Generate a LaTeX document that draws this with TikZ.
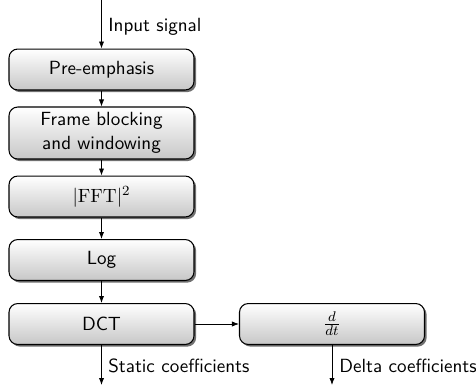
\documentclass[tikz,border=0pt]{standalone}
\usetikzlibrary{shadows,arrows.meta}
\begin{document}
\begin{tikzpicture}[x=0.5714pt,y=-0.5714pt,
  font=\sffamily\fontsize{10.9pt}{13.4pt}\selectfont,
  box/.style={draw=black, line width=0.6pt, rounded corners=5pt,
    top color=white, bottom color=black!22,
    minimum width=105.7pt, minimum height=23.4pt, inner sep=0pt, align=center,
    drop shadow={shadow xshift=1.2pt, shadow yshift=-1.2pt, fill=black!70, opacity=0.8}},
  conn/.style={-{Latex[length=4pt,width=3pt]}, line width=0.45pt},
  lbl/.style={anchor=west, inner sep=0pt}]
\useasboundingbox (0,0) rectangle (476,385);
\node[box] (pre) at (101.5,69.5) {Pre-emphasis};
\node[box, minimum height=29.7pt] (frame) at (101.5,133) {Frame blocking\\and windowing};
\node[box] (fft) at (101.5,196.5) {$|\mathrm{FFT}|^2$};
\node[box] (log) at (101.5,260) {Log};
\node[box] (dct) at (101.5,324) {DCT};
\node[box] (ddt) at (332,324) {$\frac{d}{dt}$};
\coordinate (in) at (101.5,0);
\coordinate (out1) at (101.5,385);
\coordinate (out2) at (332,385);
\draw[conn] (in) -- (pre);
\draw[conn] (pre) -- (frame);
\draw[conn] (frame) -- (fft);
\draw[conn] (fft) -- (log);
\draw[conn] (log) -- (dct);
\draw[conn] (dct) -- (ddt);
\draw[conn] (dct) -- (out1);
\draw[conn] (ddt) -- (out2);
\node[lbl] (inl) at (108,27) {Input signal};
\node[lbl] (sl) at (108,366) {Static coefficients};
\node[lbl] (dl) at (339,366) {Delta coefficients};
\end{tikzpicture}
\end{document}
